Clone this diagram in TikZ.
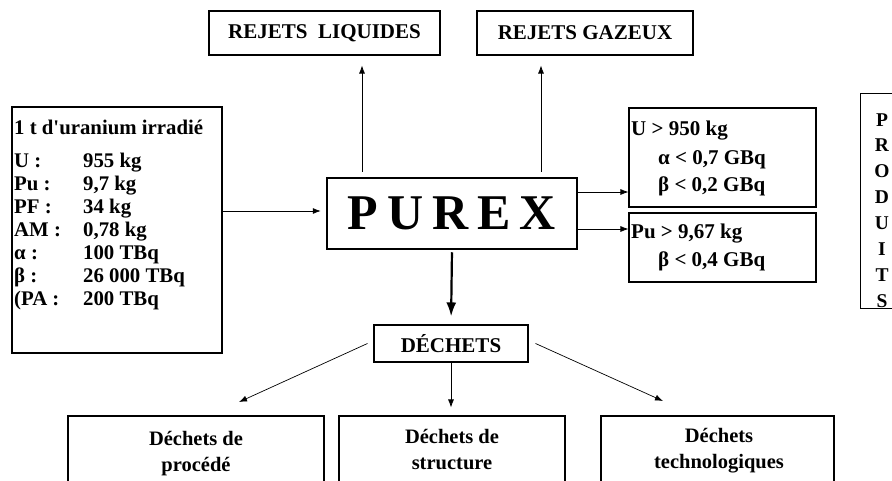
\documentclass[tikz,border=0pt]{standalone}
\usepackage{fontspec}
\setmainfont{Liberation Serif}
\usetikzlibrary{arrows.meta}
\begin{document}
\begin{tikzpicture}[x=1pt,y=-1pt,
  font=\bfseries\fontsize{21}{24}\selectfont,
  box/.style={draw, line width=1.1pt, rectangle, inner sep=0pt},
  txt/.style={inner sep=0pt, anchor=base west},
  arr/.style={line width=0.7pt, -{Latex[length=8pt,width=6pt]}},
  bigarr/.style={line width=2.2pt, -{Latex[length=14pt,width=10pt]}},
  wastebox/.style={box, minimum height=76pt},
  wastetext/.style={inner sep=0pt, anchor=base,
    font=\bfseries\fontsize{20.5}{26}\selectfont}
]
\useasboundingbox (0,0) rectangle (892,480);

% discharges
\node[box, minimum width=231pt, minimum height=44pt] (liq) at (324.5,33) {REJETS~~LIQUIDES};
\node[box, minimum width=216pt, minimum height=44pt] (gaz) at (585,33) {REJETS GAZEUX};

% central process
\node[draw, line width=2.5pt, minimum width=250pt, minimum height=71pt, inner sep=0pt,
  font=\bfseries\fontsize{50}{55}\selectfont] (purex) at (452,213.5)
  {\raisebox{-4pt}{P\hspace{9pt}U\hspace{9pt}R\hspace{9pt}E\hspace{9pt}X}};

% input: irradiated fuel
\node[box, minimum width=210pt, minimum height=246pt] (input) at (117,230) {};
\node[txt, font=\bfseries\fontsize{20.8}{23}\selectfont] (intext) at (14,134)
  {\begin{tabular}[t]{@{}p{69pt}@{}l@{}}
   \multicolumn{2}{@{}l@{}}{1 t d\textquotesingle uranium irradié}\\[10pt]
   U :&955 kg\\
   Pu :&9,7 kg\\
   PF :&34 kg\\
   AM :&0,78 kg\\
   α :&100 TBq\\
   β :&26 000 TBq\\
   (PA :&200 TBq
   \end{tabular}};

% products
\node[box, minimum width=187pt, minimum height=99pt] (ubox) at (722.5,157.5) {};
\node[box, minimum width=187pt, minimum height=69pt] (pubox) at (722.5,247.5) {};
\node[txt] (u1) at (631,135) {U > 950 kg};
\node[txt] (u2) at (658,164) {α < 0,7 GBq};
\node[txt] (u3) at (658,191) {β < 0,2 GBq};
\node[txt] (p1) at (631,238) {Pu > 9,67 kg};
\node[txt] (p2) at (658,266) {β < 0,4 GBq};

\node[box, minimum width=60pt, minimum height=215pt, anchor=north west] (prod) at (860,93) {};
\foreach \l [count=\i] in {P,R,O,D,U,I,T,S}
  \node[inner sep=0pt, anchor=base, font=\bfseries\fontsize{19.5}{22}\selectfont]
    (prod\i) at (882,{126+25.9*(\i-1)}) {\l};

% wastes
\node[box, minimum width=154pt, minimum height=37pt] (dech) at (451,343.5) {DÉCHETS};
\node[wastebox, minimum width=256pt] (proc) at (196,454) {};
\node[wastebox, minimum width=226pt] (struct) at (452,454) {};
\node[wastebox, minimum width=233pt] (techno) at (717.5,454) {};
\node[wastetext] (proctext) at (196,445)
  {\begin{tabular}[t]{@{}c@{}}Déchets de\\procédé\end{tabular}};
\node[wastetext] (structtext) at (452,443)
  {\begin{tabular}[t]{@{}c@{}}Déchets de\\structure\end{tabular}};
\node[wastetext] (technotext) at (719,442)
  {\begin{tabular}[t]{@{}c@{}}Déchets\\technologiques\end{tabular}};

% connectors
\draw[arr, shorten <=5pt, shorten >=10pt] (362,0 |- purex.north) -- (362,0 |- liq.south);
\draw[arr, shorten <=5pt, shorten >=10pt] (541,0 |- purex.north) -- (541,0 |- gaz.south);
\draw[arr, shorten >=5pt] (input.east |- 0,211) -- (purex.west |- 0,211);
\draw[arr] (purex.east |- 0,192) -- (ubox.west |- 0,192);
\draw[arr] (purex.east |- 0,229) -- (pubox.west |- 0,229);
\draw[bigarr, shorten <=2pt, shorten >=8pt] (purex.south) -- (dech.north);

\coordinate (procTip) at (239,402);
\coordinate (technoTip) at (663,401);
\draw[arr] ([xshift=-6pt]dech.west) -- (procTip);
\draw[arr, shorten >=8pt] (dech.south) -- (dech.south |- struct.north);
\draw[arr] ([xshift=7pt]dech.east) -- (technoTip);
\end{tikzpicture}
\end{document}
